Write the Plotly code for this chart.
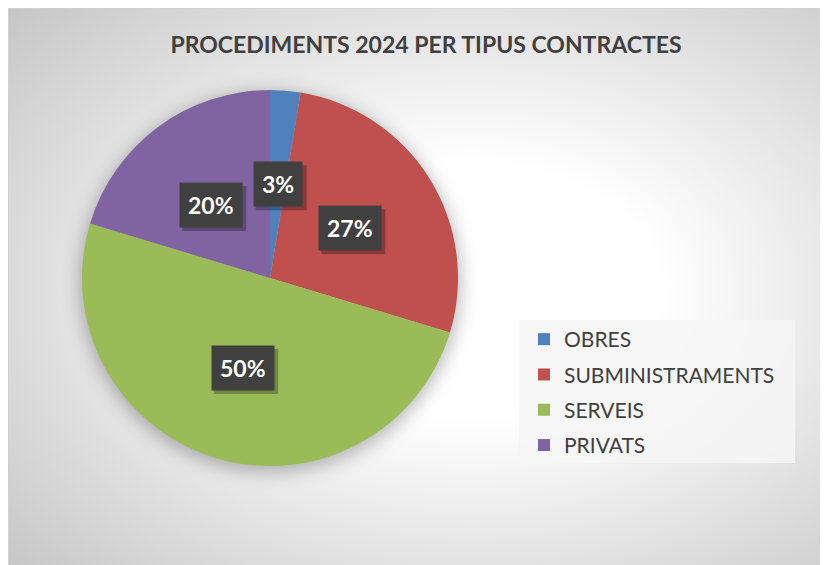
import base64
import math
import plotly.graph_objects as go

# data
categories = ['OBRES', 'SUBMINISTRAMENTS', 'SERVEIS', 'PRIVATS']
counts = [5, 52, 96, 39]
colors = ['#4f81bd', '#c0504d', '#9bbb59', '#8064a2']

title = 'PROCEDIMENTS 2024 PER TIPUS CONTRACTES'

W, H = 828, 565
# pie placement in figure pixels
cx, cy, R = 262, 270, 188
# Excel had the PRIVATS label dragged to a different spot
label_angle_override = {'PRIVATS': 321}

# background: radial grey gradient + soft shadow under the pie
svg = f"""<svg xmlns='http://www.w3.org/2000/svg' width='{W}' height='{H}' viewBox='0 0 {W} {H}' preserveAspectRatio='none'>
<defs>
<radialGradient id='g' cx='0.56' cy='0.5' r='0.75'>
<stop offset='0' stop-color='#ffffff'/>
<stop offset='0.3' stop-color='#ffffff'/>
<stop offset='1' stop-color='#c6c6c6'/>
</radialGradient>
<filter id='b' x='-30%' y='-30%' width='160%' height='160%'><feGaussianBlur stdDeviation='9'/></filter>
</defs>
<rect x='0.5' y='0' width='{W}' height='{H}' fill='url(#g)' stroke='#d0d0d0' stroke-width='1'/>
<circle cx='{cx}' cy='{cy + 4}' r='{R + 2}' fill='rgba(0,0,0,0.28)' filter='url(#b)'/>
</svg>"""
bg_uri = 'data:image/svg+xml;base64,' + base64.b64encode(svg.encode()).decode()

fig = go.Figure()

fig.add_trace(go.Pie(
    labels=categories,
    values=counts,
    sort=False,
    direction='clockwise',
    rotation=0,
    marker=dict(colors=colors, line=dict(width=0)),
    textinfo='none',
    hoverinfo='label+percent',
    showlegend=False,
    domain=dict(x=[(cx - R) / W, (cx + R) / W], y=[1 - (cy + R) / H, 1 - (cy - R) / H]),
))

# legend built from dummy traces so the row spacing can be controlled
for name, col in zip(categories, colors):
    fig.add_trace(go.Scatter(
        x=[None], y=[None], mode='markers', name=name,
        marker=dict(symbol='square', size=12, color=col),
        legendgroup=name,
    ))

# legend panel
shapes = [dict(type='rect', xref='paper', yref='paper', x0=511 / W, x1=787 / W,
               y0=1 - 455 / H, y1=1 - 312 / H, fillcolor='rgba(246,246,246,0.85)',
               line=dict(width=0), layer='below')]

# percentage labels in dark boxes
total = sum(counts)
cum = 0
for name, v in zip(categories, counts):
    mid = (cum + v / 2) / total * 360
    cum += v
    ang = math.radians(label_angle_override.get(name, mid))
    r = R * 0.5
    px = (cx + r * math.sin(ang)) / W
    py = 1 - (cy - r * math.cos(ang)) / H
    label = f'{round(v / total * 100)}%'
    # drop shadow behind the box
    bw, bh = 24 + 13 * len(label), 44
    shapes.append(dict(type='rect', xref='paper', yref='paper',
                       xsizemode='pixel', ysizemode='pixel', xanchor=px, yanchor=py,
                       x0=-bw / 2 + 3, x1=bw / 2 + 4, y0=-bh / 2 - 4, y1=bh / 2 - 3,
                       fillcolor='rgba(0,0,0,0.28)', line=dict(width=0), layer='above'))
    fig.add_annotation(x=px, y=py, xref='paper', yref='paper', text=f'<b>{label}</b>',
                       showarrow=False, xanchor='center', yanchor='middle',
                       bgcolor='#404040', borderpad=8,
                       font=dict(family='Lato', size=23, color='white'))

fig.update_layout(
    template='none',
    width=W, height=H,
    margin=dict(l=0, r=0, t=0, b=0),
    paper_bgcolor='white',
    plot_bgcolor='rgba(0,0,0,0)',
    xaxis=dict(visible=False),
    yaxis=dict(visible=False),
    title=dict(text=f'<b>{title}</b>', x=418 / W, xanchor='center', y=1 - 37 / H, yanchor='middle',
               font=dict(family='Lato', size=23, color='#404040')),
    images=[dict(source=bg_uri, xref='paper', yref='paper', x=0, y=1, sizex=1, sizey=1,
                 xanchor='left', yanchor='top', sizing='stretch', layer='below')],
    shapes=shapes,
    legend=dict(x=516 / W, y=1 - 311 / H, xanchor='left', yanchor='top',
                bgcolor='rgba(0,0,0,0)', tracegroupgap=5,
                font=dict(family='Lato', size=21, color='#404040')),
)

fig.write_html('out.html')
